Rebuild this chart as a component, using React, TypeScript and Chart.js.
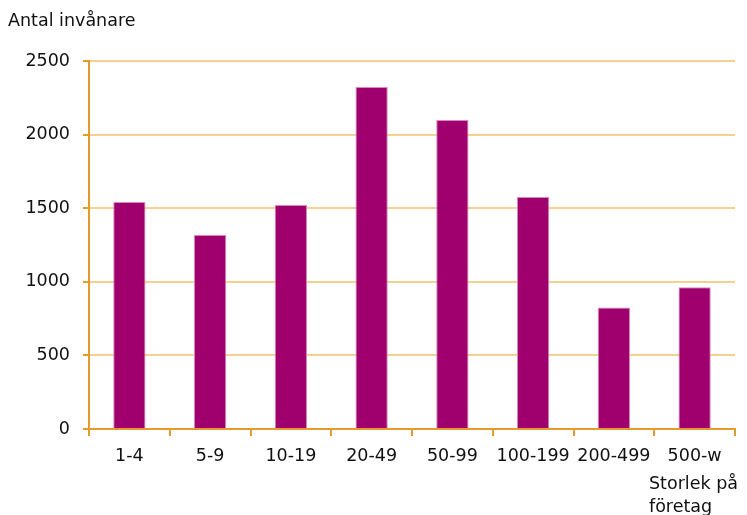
import React, { useEffect, useRef } from "react";
import { Chart, registerables } from "chart.js";

Chart.register(...registerables);

const categories = ["1-4", "5-9", "10-19", "20-49", "50-99", "100-199", "200-499", "500-w"];
const values = [1542, 1318, 1521, 2324, 2100, 1576, 826, 963];
const yTicks = [0, 500, 1000, 1500, 2000, 2500];
const yTitle = "Antal invånare";
const xTitle = ["Storlek på", "företag"];

const FONT = "'DejaVu Sans', sans-serif";
const FS = 17.5;
const AXIS = "#E59B2C";
const GRID = "#F5D08E";
const BAR = "#A0006E";

export default function App() {
  const ref = useRef<HTMLCanvasElement | null>(null);
  useEffect(() => {
    if (!ref.current) return;
    const titles = {
      id: "titles",
      afterDraw(chart: any) {
        const ctx = chart.ctx;
        ctx.save();
        ctx.fillStyle = "#111";
        ctx.font = `${FS}px ${FONT}`;
        ctx.textBaseline = "alphabetic";
        ctx.textAlign = "left";
        ctx.fillText(yTitle, 8, 26);
        ctx.fillText(xTitle[0], 649, 489);
        ctx.fillText(xTitle[1], 649, 512);
        ctx.restore();
      },
    };
    const chart = new Chart(ref.current, {
      type: "bar",
      data: {
        labels: categories,
        datasets: [
          {
            data: values,
            backgroundColor: BAR,
            borderColor: "#D88AC0",
            borderWidth: 1,
            barPercentage: 0.4,
            categoryPercentage: 1,
          },
        ],
      },
      options: {
        responsive: false,
        animation: false,
        layout: { padding: { top: 61, right: 12, left: 0, bottom: 0 } },
        plugins: { legend: { display: false }, tooltip: { enabled: false }, title: { display: false } },
        scales: {
          x: {
            afterFit(scale: any) {
              scale.height = 86;
            },
            grid: {
              offset: true,
              drawOnChartArea: false,
              drawTicks: true,
              tickLength: 7,
              tickColor: AXIS,
              lineWidth: 2,
            },
            border: { color: AXIS, width: 2 },
            ticks: { color: "#111", font: { family: FONT, size: FS }, padding: 10, maxRotation: 0, autoSkip: false },
          },
          y: {
            min: 0,
            max: 2500,
            afterFit(scale: any) {
              scale.width = 89;
            },
            afterBuildTicks(scale: any) {
              scale.ticks = yTicks.map((v) => ({ value: v }));
            },
            grid: {
              color: GRID,
              lineWidth: 2,
              drawTicks: true,
              tickLength: 6,
              tickColor: AXIS,
            },
            border: { color: AXIS, width: 2 },
            ticks: {
              color: "#111",
              font: { family: FONT, size: FS },
              padding: 13,
              callback: (v: any) => String(v),
            },
          },
        },
      },
      plugins: [titles],
    } as any);
    return () => chart.destroy();
  }, []);
  return (
    <div style={{ position: "fixed", left: 0, top: 0, width: 747, height: 515, background: "#fff" }}>
      <canvas ref={ref} width={747} height={515} style={{ width: 747, height: 515 }} />
    </div>
  );
}
